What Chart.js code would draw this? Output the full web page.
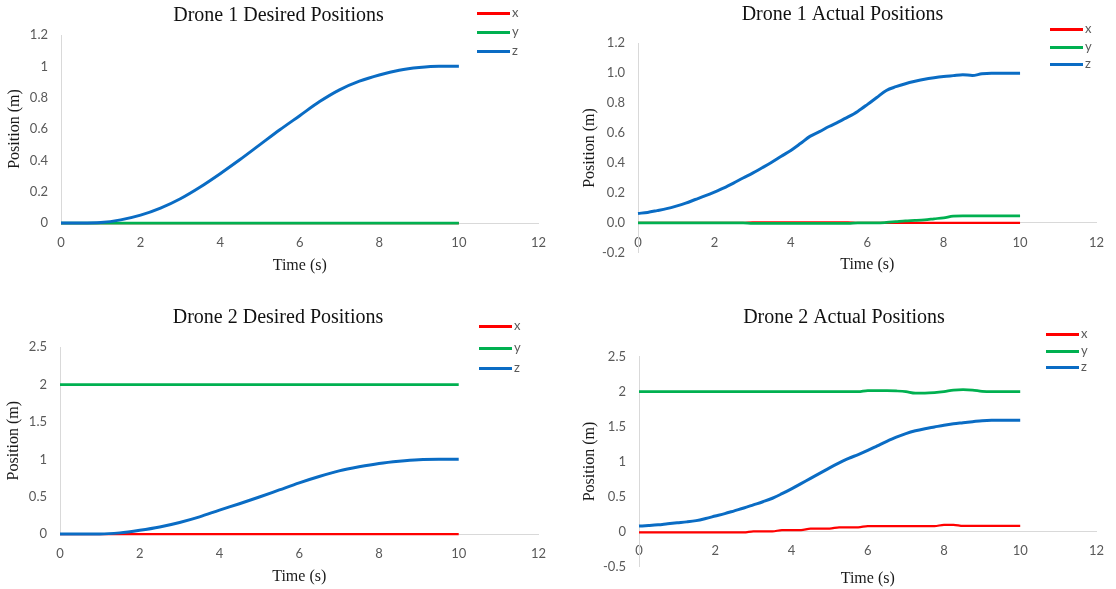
<!DOCTYPE html>
<html>
<head>
<meta charset="utf-8">
<script src="https://cdn.jsdelivr.net/npm/chart.js@4.4.1/dist/chart.umd.min.js"></script>
<style>
  html, body { margin: 0; padding: 0; background: #fff; }
  body { width: 1116px; height: 589px; position: relative; overflow: hidden; }
  canvas { position: absolute; }
  .leg { position: absolute; height: 0; font: 13px Lato, sans-serif; color: #595959; }
  .leg span.line { position: absolute; left: 0; top: -1.5px; width: 33px; height: 3px; }
  .leg span.txt { position: absolute; left: 35px; top: -9px; line-height: 16px; }
</style>
</head>
<body>
<canvas id="c1"></canvas>
<canvas id="c2"></canvas>
<canvas id="c3"></canvas>
<canvas id="c4"></canvas>
<script>
const seriesNames = ['x', 'y', 'z'];
const seriesColors = ['#ff0000', '#00b050', '#0a6cc4'];
const seriesWidths = [2.25, 2.75, 3];

// desired trajectories, 0.5 s samples
const timeDesired = [0, 0.5, 1, 1.5, 2, 2.5, 3, 3.5, 4, 4.5, 5, 5.5, 6, 6.5, 7, 7.5, 8, 8.5, 9, 9.5, 10];
const d1DesiredX = [0, 0, 0, 0, 0, 0, 0, 0, 0, 0, 0, 0, 0, 0, 0, 0, 0, 0, 0, 0, 0];
const d1DesiredY = [0, 0, 0, 0, 0, 0, 0, 0, 0, 0, 0, 0, 0, 0, 0, 0, 0, 0, 0, 0, 0];
const d1DesiredZ = [0, 0, 0.003, 0.02, 0.05, 0.095, 0.155, 0.23, 0.315, 0.405, 0.5, 0.595, 0.685, 0.775, 0.85, 0.905, 0.945, 0.975, 0.992, 1, 1];
const d2DesiredX = [0, 0, 0, 0, 0, 0, 0, 0, 0, 0, 0, 0, 0, 0, 0, 0, 0, 0, 0, 0, 0];
const d2DesiredY = [2, 2, 2, 2, 2, 2, 2, 2, 2, 2, 2, 2, 2, 2, 2, 2, 2, 2, 2, 2, 2];
const d2DesiredZ = [0, 0, 0, 0.015, 0.05, 0.095, 0.155, 0.23, 0.32, 0.405, 0.495, 0.59, 0.685, 0.77, 0.845, 0.9, 0.945, 0.975, 0.995, 1, 1];

// measured trajectories, 0.25 s samples
const timeActual = [0, 0.25, 0.5, 0.75, 1, 1.25, 1.5, 1.75, 2, 2.25, 2.5, 2.75, 3, 3.25, 3.5, 3.75, 4, 4.25, 4.5, 4.75,
  5, 5.25, 5.5, 5.75, 6, 6.25, 6.5, 6.75, 7, 7.25, 7.5, 7.75, 8, 8.25, 8.5, 8.75, 9, 9.25, 9.5, 9.75, 10];
const d1ActualX = [0, 0, 0, 0, 0, 0, 0, 0, 0, 0, 0, 0, 0.004, 0.004, 0.004, 0.004, 0.004, 0.004, 0.004, 0.004,
  0.004, 0.004, 0.004, 0, 0, 0, 0, 0, 0, 0, 0, 0, 0, 0, 0, 0, 0, 0, 0, 0, 0];
const d1ActualY = [0, 0, 0, 0, 0, 0, 0, 0, 0, 0, 0, 0, -0.004, -0.004, -0.004, -0.004, -0.004, -0.004, -0.004, -0.004,
  -0.004, -0.004, -0.004, 0, 0, 0, 0.003, 0.008, 0.013, 0.016, 0.02, 0.027, 0.034, 0.045, 0.047, 0.047, 0.047, 0.047, 0.047, 0.047, 0.047];
const d1ActualZ = [0.063, 0.07, 0.082, 0.095, 0.112, 0.132, 0.156, 0.18, 0.206, 0.234, 0.266, 0.3, 0.332, 0.368, 0.405, 0.445, 0.484, 0.53, 0.578, 0.61,
  0.644, 0.675, 0.708, 0.745, 0.79, 0.838, 0.885, 0.91, 0.93, 0.946, 0.96, 0.97, 0.978, 0.984, 0.99, 0.985, 0.996, 1, 1, 1, 1];
const d2ActualX = [-0.015, -0.015, -0.015, -0.015, -0.015, -0.015, -0.015, -0.015, -0.015, -0.015, -0.015, -0.015, 0, 0, 0, 0.02, 0.02, 0.02, 0.04, 0.04,
  0.04, 0.06, 0.06, 0.06, 0.075, 0.075, 0.075, 0.075, 0.075, 0.075, 0.075, 0.075, 0.095, 0.095, 0.08, 0.08, 0.08, 0.08, 0.08, 0.08, 0.08];
const d2ActualY = [2, 2, 2, 2, 2, 2, 2, 2, 2, 2, 2, 2, 2, 2, 2, 2, 2, 2, 2, 2,
  2, 2, 2, 2, 2.015, 2.015, 2.015, 2.01, 2, 1.978, 1.978, 1.985, 2, 2.022, 2.028, 2.022, 2.005, 2, 2, 2, 2];
const d2ActualZ = [0.077, 0.085, 0.095, 0.11, 0.124, 0.137, 0.155, 0.185, 0.22, 0.255, 0.295, 0.335, 0.38, 0.425, 0.475, 0.54, 0.61, 0.685, 0.76, 0.835,
  0.91, 0.98, 1.045, 1.1, 1.16, 1.225, 1.29, 1.35, 1.4, 1.44, 1.47, 1.495, 1.52, 1.54, 1.555, 1.57, 1.585, 1.59, 1.59, 1.59, 1.59];

const panels = [
  { id: 'c1', title: 'Drone 1 Desired Positions', t: timeDesired, series: [d1DesiredX, d1DesiredY, d1DesiredZ],
    yMin: 0, yMax: 1.2, yStep: 0.2, fixed: false,
    left: 0, top: 0, w: 558, h: 275, padL: 10, padR: 11, yW: 51, yTitlePad: -4.6, tTop: 4, tBottom: 7, xH: 52,
    legX: 477, legY: [13, 32, 51] },
  { id: 'c2', title: 'Drone 1 Actual Positions', t: timeActual, series: [d1ActualX, d1ActualY, d1ActualZ],
    yMin: -0.2, yMax: 1.2, yStep: 0.2, fixed: true,
    left: 558, top: 0, w: 558, h: 304, padL: 27, padR: 16, yW: 53, yTitlePad: -4.6, tTop: 3, tBottom: 16.3, xH: 51.2,
    legX: 1050, legY: [29, 47, 64] },
  { id: 'c3', title: 'Drone 2 Desired Positions', t: timeDesired, series: [d2DesiredX, d2DesiredY, d2DesiredZ],
    yMin: 0, yMax: 2.5, yStep: 0.5, fixed: false,
    left: 0, top: 294, w: 558, h: 292, padL: 10, padR: 12, yW: 50, yTitlePad: -6, tTop: 11.7, tBottom: 17.6, xH: 52,
    legX: 479, legY: [326, 348, 368] },
  { id: 'c4', title: 'Drone 2 Actual Positions', t: timeActual, series: [d2ActualX, d2ActualY, d2ActualZ],
    yMin: -0.5, yMax: 2.5, yStep: 0.5, fixed: false,
    left: 558, top: 294, w: 558, h: 329, padL: 28, padR: 14, yW: 53, yTitlePad: -5.6, tTop: 11.7, tBottom: 27, xH: 56.6,
    legX: 1046, legY: [334, 351, 367] }
];

const tickFont = { family: 'Lato, sans-serif', size: 13 };
const serif = 'Liberation Serif, Times New Roman, serif';

function addLegend(p) {
  seriesNames.forEach((name, i) => {
    const item = document.createElement('div');
    item.className = 'leg';
    item.style.left = p.legX + 'px';
    item.style.top = p.legY[i] + 'px';
    const line = document.createElement('span');
    line.className = 'line';
    line.style.background = seriesColors[i];
    const txt = document.createElement('span');
    txt.className = 'txt';
    txt.textContent = name;
    item.appendChild(line);
    item.appendChild(txt);
    document.body.appendChild(item);
  });
}

function fmtTick(v, fixed) {
  if (Math.abs(v) < 1e-9) v = 0;
  return fixed ? v.toFixed(1) : Number(v.toFixed(2)).toString();
}

function drawPanel(p) {
  const cv = document.getElementById(p.id);
  cv.width = p.w;
  cv.height = p.h;
  cv.style.left = p.left + 'px';
  cv.style.top = p.top + 'px';

  new Chart(cv, {
    type: 'line',
    data: {
      datasets: seriesNames.map((name, i) => ({
        label: name,
        data: p.t.map((tv, k) => ({ x: tv, y: p.series[i][k] })),
        borderColor: seriesColors[i],
        backgroundColor: seriesColors[i],
        borderWidth: seriesWidths[i],
        pointRadius: 0,
        cubicInterpolationMode: 'monotone',
        fill: false,
        clip: false,
        order: 3 - i
      }))
    },
    options: {
      responsive: false,
      animation: false,
      events: [],
      // x axis sits at y = 0, so it reserves no room: keep it with bottom padding
      layout: { padding: { left: p.padL, right: p.padR, top: 0, bottom: p.xH } },
      plugins: {
        legend: { display: false },
        tooltip: { enabled: false },
        title: {
          display: true,
          text: p.title,
          color: '#111',
          font: { family: serif, size: 20, weight: 'normal' },
          padding: { top: p.tTop, bottom: p.tBottom }
        }
      },
      scales: {
        x: {
          type: 'linear',
          position: { y: 0 },
          min: 0,
          max: 12,
          afterFit: (s) => { s.height = p.xH; },
          grid: { display: false, drawTicks: false },
          border: { display: true, color: '#d9d9d9', width: 1 },
          ticks: { stepSize: 2, padding: 12, color: '#595959', font: tickFont, maxRotation: 0 },
          title: {
            display: true,
            text: 'Time (s)',
            color: '#1a1a1a',
            font: { family: serif, size: 16 },
            padding: { top: 4, bottom: 0 }
          }
        },
        y: {
          type: 'linear',
          min: p.yMin,
          max: p.yMax,
          afterFit: (s) => { s.width = p.yW; },
          grid: { display: false, drawTicks: false },
          border: { display: true, color: '#d9d9d9', width: 1 },
          ticks: {
            stepSize: p.yStep,
            padding: 13,
            color: '#595959',
            font: tickFont,
            callback: (v) => fmtTick(v, p.fixed)
          },
          title: {
            display: true,
            text: 'Position (m)',
            color: '#1a1a1a',
            font: { family: serif, size: 16 },
            padding: { top: p.yTitlePad, bottom: 0 }
          }
        }
      }
    }
  });
  addLegend(p);
}

panels.forEach(drawPanel);
</script>
</body>
</html>
